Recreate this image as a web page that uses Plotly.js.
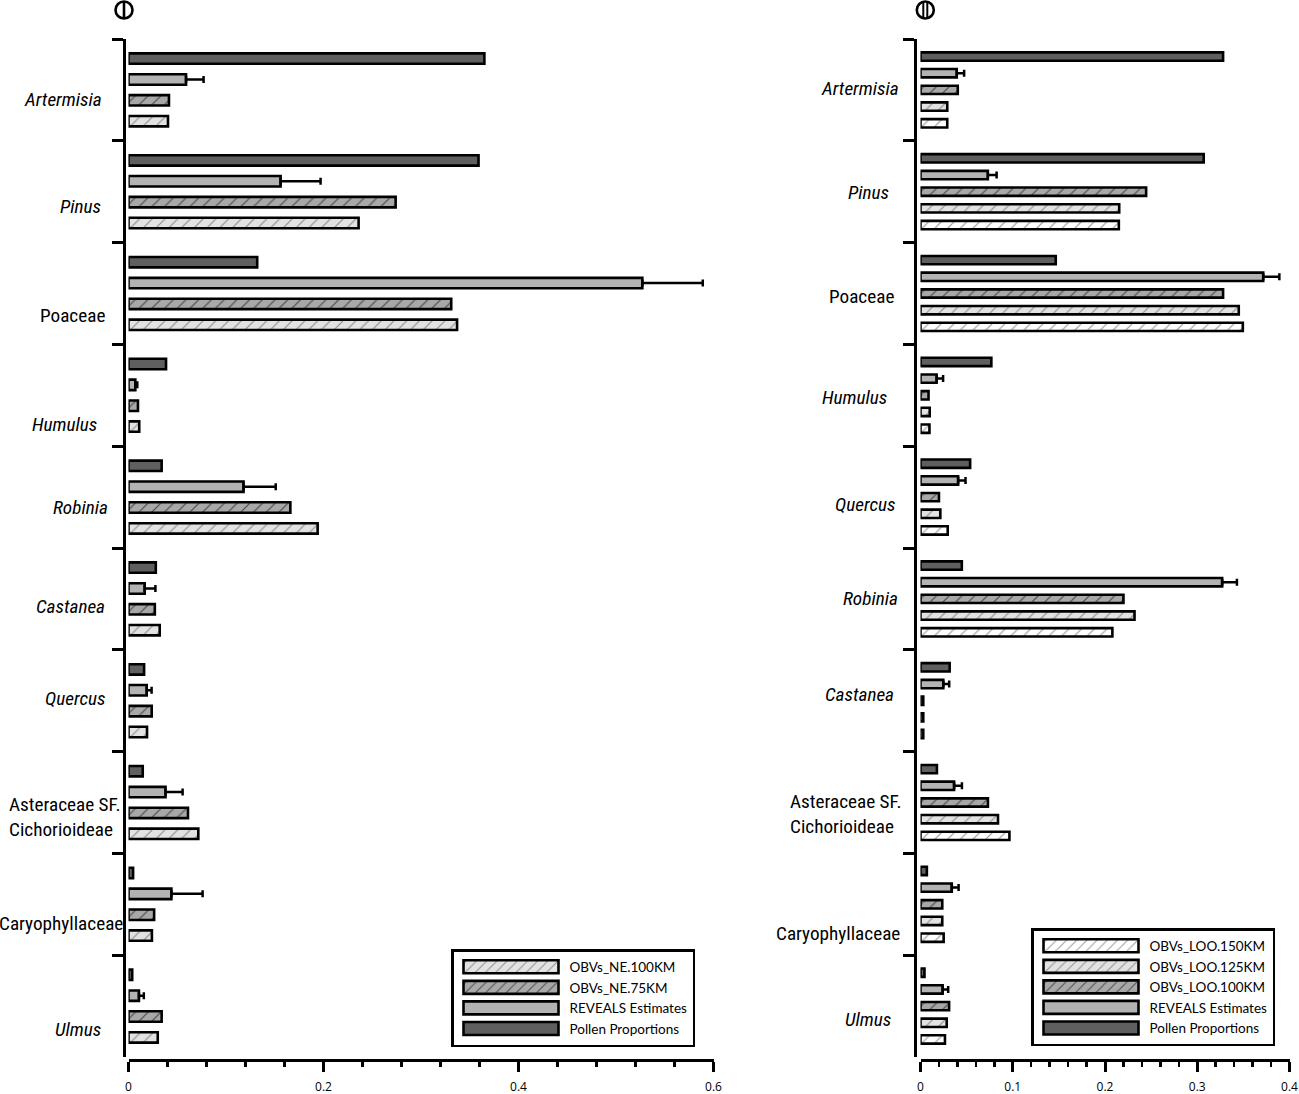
<!DOCTYPE html>
<html>
<head>
<meta charset="utf-8">
<script src="https://cdn.plot.ly/plotly-3.0.1.min.js"></script>
<style>
  html, body { margin: 0; padding: 0; background: #ffffff; }
  #chart { width: 1299px; height: 1094px; }
</style>
</head>
<body>
<div id="chart"></div>
<script>
// ---------- Panel I (left) ----------
const categoriesL = ['Artermisia', 'Pinus', 'Poaceae', 'Humulus', 'Robinia', 'Castanea', 'Quercus',
  'Asteraceae SF. Cichorioideae', 'Caryophyllaceae', 'Ulmus'];
const labelsL = ['<i>Artermisia</i>', '<i>Pinus</i>', 'Poaceae', '<i>Humulus</i>', '<i>Robinia</i>',
  '<i>Castanea</i>', '<i>Quercus</i>', 'Asteraceae SF.<br>Cichorioideae', 'Caryophyllaceae', '<i>Ulmus</i>'];
const pollenL      = [0.365, 0.359, 0.132, 0.0385, 0.034, 0.028, 0.016, 0.0146, 0.0047, 0.0038];
const revealsL     = [0.059, 0.156, 0.527, 0.007, 0.118, 0.0166, 0.0187, 0.038, 0.044, 0.0107];
const revealsErrL  = [0.018, 0.041, 0.062, 0.002, 0.033, 0.011, 0.005, 0.0175, 0.032, 0.005];
const revealsErrMinusL = [0, 0, 0, 0, 0, 0, 0, 0, 0, 0];
const ne75L        = [0.0415, 0.274, 0.331, 0.0097, 0.166, 0.027, 0.0238, 0.061, 0.0263, 0.034];
const ne100L       = [0.0405, 0.236, 0.337, 0.011, 0.194, 0.032, 0.019, 0.0716, 0.024, 0.030];

// ---------- Panel II (right) ----------
const categoriesR = ['Artermisia', 'Pinus', 'Poaceae', 'Humulus', 'Quercus', 'Robinia', 'Castanea',
  'Asteraceae SF. Cichorioideae', 'Caryophyllaceae', 'Ulmus'];
const labelsR = ['<i>Artermisia</i>', '<i>Pinus</i>', 'Poaceae', '<i>Humulus</i>', '<i>Quercus</i>',
  '<i>Robinia</i>', '<i>Castanea</i>', 'Asteraceae SF.<br>Cichorioideae', 'Caryophyllaceae', '<i>Ulmus</i>'];
const pollenR      = [0.328, 0.307, 0.1466, 0.0768, 0.0538, 0.0448, 0.0316, 0.0178, 0.0069, 0.0043];
const revealsR     = [0.0393, 0.073, 0.3715, 0.0175, 0.0408, 0.327, 0.0247, 0.0364, 0.0339, 0.024];
const revealsErrR  = [0.008, 0.0095, 0.0175, 0.007, 0.008, 0.016, 0.0064, 0.0085, 0.0074, 0.006];
const revealsErrMinusR = [0, 0, 0, 0, 0, 0, 0, 0, 0, 0];
const loo100R      = [0.0404, 0.2446, 0.328, 0.0087, 0.020, 0.220, 0.003, 0.0731, 0.0236, 0.031];
const loo125R      = [0.029, 0.2154, 0.345, 0.010, 0.0215, 0.232, 0.003, 0.084, 0.0236, 0.0284];
const loo150R      = [0.029, 0.215, 0.3494, 0.0097, 0.0295, 0.208, 0.003, 0.0964, 0.0251, 0.0265];

// ---------- label placement (style) ----------
const labelGapL = [20, 21, 17, 25, 14, 17, 17, 1, -1, 21];
const labelDyL  = [10, 15, 22, 29, 10, 8, -2, 14, 19, 23];
const labelGapR = [14, 24, 19, 26, 18, 15, 19, 11, 13, 22];
const labelDyR  = [-1, 1, 3, 2, 7, 0, -6, 11, 29, 13];

const NARROW = '"Liberation Sans Narrow", "Arial Narrow", "Roboto Condensed", "DejaVu Sans Condensed", sans-serif';
const LEG = 'Lato, "Open Sans", sans-serif';
const TICK = '"Open Sans", "Noto Sans", sans-serif';

const W = 1299, H = 1094;
const px = v => v / W, py = v => (H - v) / H;

const lineStyle = { color: '#000000', width: 2.6 };
const styles = {
  pollen:  { color: '#5f5f5f', line: lineStyle },
  reveals: { color: '#b3b3b3', line: lineStyle },
  dark:    { color: '#a8a8a8', line: lineStyle, pattern: { shape: '/', bgcolor: '#a8a8a8', fgcolor: '#4a4a4a', size: 9, solidity: 0.13 } },
  light:   { color: '#e2e2e2', line: lineStyle, pattern: { shape: '/', bgcolor: '#e2e2e2', fgcolor: '#8e8e8e', size: 9, solidity: 0.13 } },
  white:   { color: '#ffffff', line: lineStyle, pattern: { shape: '/', bgcolor: '#ffffff', fgcolor: '#9a9a9a', size: 9, solidity: 0.13 } }
};
const errStyle = (arr, minus) => ({ type: 'data', symmetric: false, array: arr, arrayminus: minus,
  color: '#000000', thickness: 2.5, width: 3.5, visible: true });

function barTrace(name, vals, cats, marker, xa, ya, leg, err) {
  const t = { type: 'bar', orientation: 'h', name: name, x: vals, y: cats, marker: marker,
    xaxis: xa, yaxis: ya, legend: leg, hoverinfo: 'x+y+name' };
  if (err) t.error_x = err;
  return t;
}

const data = [
  barTrace('Pollen Proportions', pollenL, categoriesL, styles.pollen, 'x', 'y', 'legend'),
  barTrace('REVEALS Estimates', revealsL, categoriesL, styles.reveals, 'x', 'y', 'legend', errStyle(revealsErrL, revealsErrMinusL)),
  barTrace('OBVs_NE.75KM', ne75L, categoriesL, styles.dark, 'x', 'y', 'legend'),
  barTrace('OBVs_NE.100KM', ne100L, categoriesL, styles.light, 'x', 'y', 'legend'),
  barTrace('Pollen Proportions', pollenR, categoriesR, styles.pollen, 'x2', 'y2', 'legend2'),
  barTrace('REVEALS Estimates', revealsR, categoriesR, styles.reveals, 'x2', 'y2', 'legend2', errStyle(revealsErrR, revealsErrMinusR)),
  barTrace('OBVs_LOO.100KM', loo100R, categoriesR, styles.dark, 'x2', 'y2', 'legend2'),
  barTrace('OBVs_LOO.125KM', loo125R, categoriesR, styles.light, 'x2', 'y2', 'legend2'),
  barTrace('OBVs_LOO.150KM', loo150R, categoriesR, styles.white, 'x2', 'y2', 'legend2')
];

// axis geometry (pixels in the 1299x1094 picture)
const yTop = 39, yBottom = 1057, xAxisY = 1059.5;
const yAxisXL = 124, yAxisXR = 914.5;

function xAxis(domain, range, dtick, minorDtick) {
  return { domain: domain, range: range, anchor: 'free', position: py(xAxisY), tick0: 0, dtick: dtick,
    ticks: 'outside', ticklen: 10, tickwidth: 3, tickcolor: '#000', ticklabelstandoff: 5,
    showline: true, linewidth: 3, linecolor: '#000', showgrid: false, zeroline: false,
    tickfont: { family: TICK, size: 12, color: '#000' },
    minor: { dtick: minorDtick, tick0: 0, ticks: 'outside', ticklen: 5, tickwidth: 2.5, tickcolor: '#000', showgrid: false } };
}
function yAxis(cats, xpos) {
  return { domain: [py(yBottom), py(yTop)], anchor: 'free', position: px(xpos), type: 'category',
    categoryorder: 'array', categoryarray: cats,
    range: [cats.length - 0.5, -0.5], tickson: 'boundaries', ticks: 'outside', ticklen: 11, tickwidth: 3,
    tickcolor: '#000', showticklabels: false, showline: true, linewidth: 3, linecolor: '#000',
    showgrid: false, zeroline: false };
}
function legendBox(x, y) {
  return { x: x, y: y, xanchor: 'left', yanchor: 'top', traceorder: 'reversed',
    bordercolor: '#000', borderwidth: 2.5, bgcolor: '#ffffff', itemwidth: 106,
    font: { family: LEG, size: 13.5, color: '#000' } };
}

const annotations = [];
categoriesL.forEach((c, i) => annotations.push({ xref: 'paper', yref: 'y', x: px(yAxisXL), y: c,
  xanchor: 'right', yanchor: 'middle', xshift: -labelGapL[i], yshift: -labelDyL[i], align: 'left',
  text: labelsL[i], showarrow: false, font: { family: NARROW, size: 19.2, color: '#000' } }));
categoriesR.forEach((c, i) => annotations.push({ xref: 'paper', yref: 'y2', x: px(yAxisXR), y: c,
  xanchor: 'right', yanchor: 'middle', xshift: -labelGapR[i], yshift: -labelDyR[i], align: 'left',
  text: labelsR[i], showarrow: false, font: { family: NARROW, size: 19.2, color: '#000' } }));

// circled panel numerals (I and II)
const shapes = [
  { type: 'circle', xref: 'paper', yref: 'paper', x0: px(115.5), x1: px(132.5), y0: py(18.5), y1: py(1.5), line: { color: '#000', width: 2.6 } },
  { type: 'line', xref: 'paper', yref: 'paper', x0: px(124), x1: px(124), y0: py(18.5), y1: py(1.5), line: { color: '#000', width: 2.6 } },
  { type: 'circle', xref: 'paper', yref: 'paper', x0: px(916.8), x1: px(933.8), y0: py(18.5), y1: py(1.5), line: { color: '#000', width: 2.6 } },
  { type: 'line', xref: 'paper', yref: 'paper', x0: px(923.3), x1: px(923.3), y0: py(18.5), y1: py(1.5), line: { color: '#000', width: 2 } },
  { type: 'line', xref: 'paper', yref: 'paper', x0: px(927.3), x1: px(927.3), y0: py(18.5), y1: py(1.5), line: { color: '#000', width: 2 } }
];

const layout = {
  width: W, height: H, margin: { l: 0, r: 0, t: 0, b: 0 },
  paper_bgcolor: '#ffffff', plot_bgcolor: '#ffffff',
  barmode: 'group', bargap: 0.18, bargroupgap: 0.5,
  font: { family: NARROW, color: '#000' },
  showlegend: true,
  xaxis: xAxis([px(128.5), px(713.5)], [0, 0.6], 0.2, 0.04),
  yaxis: yAxis(categoriesL, yAxisXL),
  xaxis2: xAxis([px(920.5), px(1289.5)], [0, 0.4], 0.1, 0.02),
  yaxis2: yAxis(categoriesR, yAxisXR),
  legend: legendBox(px(451), py(949)),
  legend2: legendBox(px(1031), py(928)),
  annotations: annotations,
  shapes: shapes
};
// the x axes are drawn against the y axes of their own panel
layout.xaxis.overlaying = undefined;

Plotly.newPlot('chart', data, layout, { staticPlot: true, displayModeBar: false }).then(gd => {
  gd.querySelectorAll('.legendpoints path').forEach(p => {
    p.setAttribute('d', 'M47,6.5H-48V-6.5H47Z');
    p.style.strokeWidth = '2.6px';
  });
});
</script>
</body>
</html>
